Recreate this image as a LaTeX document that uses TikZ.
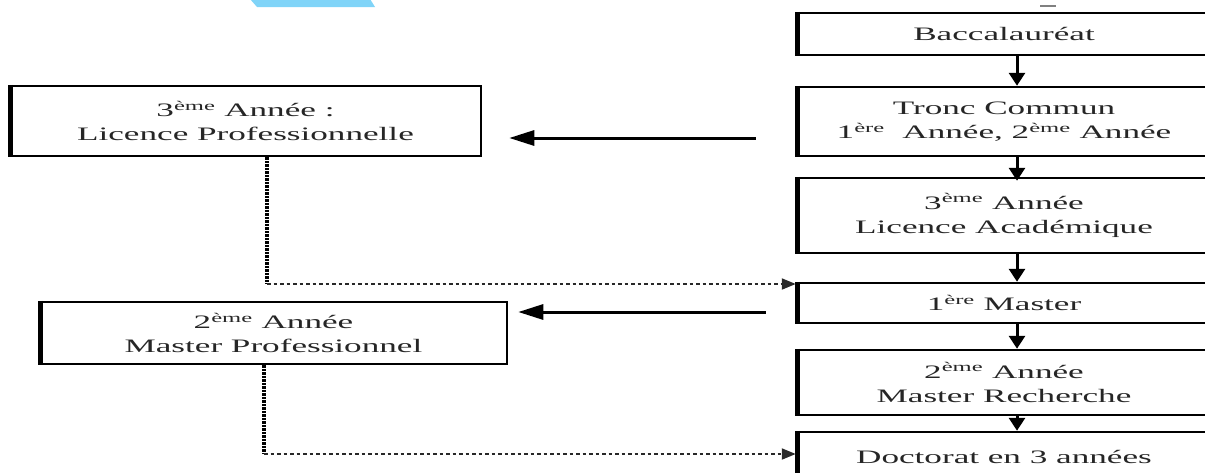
\documentclass[tikz,border=0pt]{standalone}
\usepackage{fontspec}
\setmainfont{Liberation Serif}[FakeStretch=1.85]
\usetikzlibrary{arrows.meta}
\definecolor{banner}{RGB}{128,212,248}
\definecolor{dotgray}{RGB}{40,40,40}
\begin{document}
\begin{tikzpicture}[x=1pt,y=-1pt,
  box/.style={draw, line width=2.5pt, inner sep=0pt, align=center,
    font=\fontsize{19}{24}\selectfont, text=black!85},
  varrow/.style={line width=3pt, -{Triangle[length=13pt,width=16pt]}},
  harrow/.style={line width=3pt, -{Triangle[length=25pt,width=15pt]}},
  dotv/.style={line width=4.5pt, dash pattern=on 2.5pt off 1pt, color=black},
  doth/.style={line width=2pt, dash pattern=on 3.5pt off 3pt, color=dotgray,
    -{Triangle[length=14pt,width=11pt]}},
]
\useasboundingbox (0,0) rectangle (1205,472);
\fill[white] (0,0) rectangle (1205,472);
\clip (0,0) rectangle (1205,472);

% cropped banner fragment and title fragment
\fill[banner] (250,-1) -- (370,-1) -- (375,7) -- (257,7) -- cycle;
\draw[gray, line width=1.5pt] (1040,6) -- (1056,6);

% right column
\node[box, minimum width=414pt, minimum height=42pt] (bac) at (1004,34) {Baccalauréat};
\node[box, minimum width=414pt, minimum height=69pt] (tc) at (1004,121.5)
  {Tronc Commun\\1\textsuperscript{ère}\ \ Année, 2\textsuperscript{ème} Année};
\node[box, minimum width=414pt, minimum height=75pt] (la) at (1004,215.5)
  {3\textsuperscript{ème} Année\\Licence Académique};
\node[box, minimum width=414pt, minimum height=40pt] (m1) at (1004,303)
  {1\textsuperscript{ère} Master};
\node[box, minimum width=414pt, minimum height=65pt] (mr) at (1004,382.5)
  {2\textsuperscript{ème} Année\\Master Recherche};
\node[box, minimum width=414pt, minimum height=50pt] (doc) at (1004,457)
  {Doctorat en 3 années};

% left column
\node[box, minimum width=471pt, minimum height=70pt] (lp) at (245.5,121)
  {3\textsuperscript{ème} Année :\\Licence Professionnelle};
\node[box, minimum width=467pt, minimum height=62pt] (mp) at (273.5,333)
  {2\textsuperscript{ème} Année\\Master Professionnel};

% thick left borders
\foreach \n in {bac,tc,la,m1,mr,doc,lp,mp}
  \draw[line width=5pt] ([xshift=1.5pt]\n.north west) -- ([xshift=1.5pt]\n.south west);

% vertical arrows
\draw[varrow] ([xshift=13pt]bac.south) -- ([xshift=13pt]tc.north);
\draw[varrow] ([xshift=13pt]tc.south) -- ([xshift=13pt,yshift=-4pt]la.north);
\draw[varrow] ([xshift=13pt]la.south) -- ([xshift=13pt]m1.north);
\draw[varrow] ([xshift=13pt]m1.south) -- ([xshift=13pt]mr.north);
\draw[varrow] ([xshift=13pt]mr.south) -- ([xshift=13pt]doc.north);

% horizontal arrows
\draw[harrow, shorten <=40pt, shorten >=27pt]
  ([yshift=-16.5pt]tc.west) -- ([yshift=-16.5pt]tc.west -| lp.east);
\draw[harrow, shorten <=30pt, shorten >=10pt]
  ([yshift=-9pt]m1.west) -- ([yshift=-9pt]m1.west -| mp.east);

% dotted connectors
\coordinate (c1) at (267,284);
\coordinate (c2) at (264,454);
\draw[dotv] ([xshift=21.5pt]lp.south) -- (c1);
\draw[doth] (c1) -- (c1 -| m1.west);
\draw[dotv] ([xshift=-9.5pt]mp.south) -- (c2);
\draw[doth] (c2) -- (c2 -| doc.west);
\end{tikzpicture}
\end{document}
